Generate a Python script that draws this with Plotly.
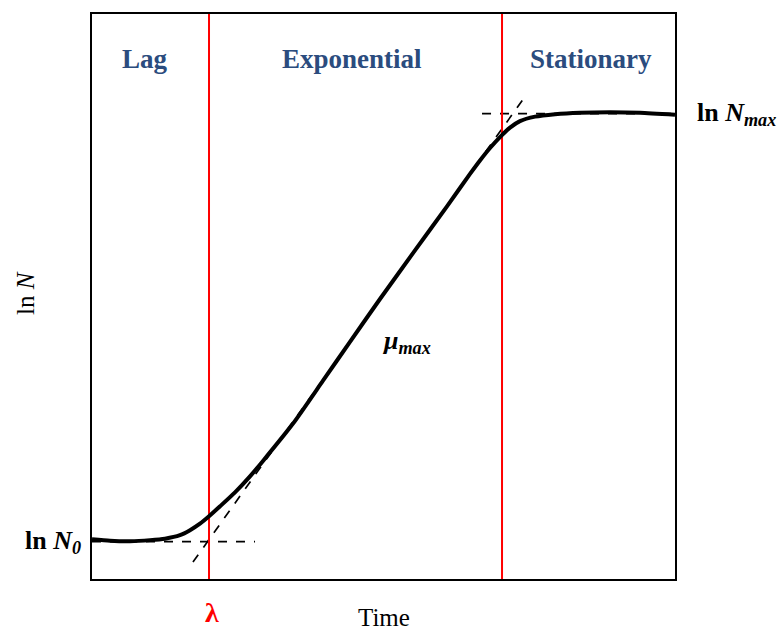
import plotly.graph_objects as go

# ---- data (arbitrary units: time 0..100, ln N 0..100) ----
time = [0, 3.09, 6.52, 9.95, 12.52, 15.09, 16.81, 18.52, 20.07, 21.96, 24.53, 27.10,
        29.33, 34.48, 39.62, 44.25, 49.40, 55.06, 60.89, 64.84, 66.55, 68.27, 69.98,
        71.70, 73.41, 75.99, 79.42, 83.70, 88.85, 93.99, 100]
lnN = [7.05, 6.79, 6.70, 6.88, 7.14, 7.76, 8.64, 9.79, 11.11, 12.87, 15.34, 18.17,
       20.90, 27.51, 35.10, 41.98, 49.56, 57.67, 65.96, 71.69, 74.07, 76.28, 78.22,
       79.89, 81.04, 81.83, 82.27, 82.54, 82.63, 82.54, 82.18]

lag_time = 20.07          # lambda
stationary_start = 70.33
lnN0 = 6.6
lnNmax = 82.36
tangent_t = [17.32, 74.62]
tangent_y = [3.0, 85.89]
n0_line_t = [0, 27.96]
nmax_line_t = [66.9, 100]

phases = ["Lag", "Exponential", "Stationary"]
phase_centers = [9.09, 44.6, 85.6]

SERIF = "Liberation Serif, Times New Roman, serif"
BLUE = "#2B4C7E"

fig = go.Figure()

# dashed reference lines
dash_style = dict(color="black", width=1.7, dash="dash")
fig.add_trace(go.Scatter(x=n0_line_t, y=[lnN0, lnN0], mode="lines",
                         line=dash_style, hoverinfo="skip"))
fig.add_trace(go.Scatter(x=nmax_line_t, y=[lnNmax, lnNmax], mode="lines",
                         line=dash_style, hoverinfo="skip"))
fig.add_trace(go.Scatter(x=tangent_t, y=tangent_y, mode="lines",
                         line=dash_style, hoverinfo="skip"))

# phase boundaries
for xb in [lag_time, stationary_start]:
    fig.add_trace(go.Scatter(x=[xb, xb], y=[0, 100], mode="lines",
                             line=dict(color="#FF0000", width=2), hoverinfo="skip"))

# growth curve
fig.add_trace(go.Scatter(x=time, y=lnN, mode="lines",
                         line=dict(color="black", width=4, shape="spline", smoothing=0.6),
                         hoverinfo="skip"))

# paper coords == data coords / 100 (axes span 0..100)
def note(x, y, text, size, color="black", xanchor="center", **kw):
    return dict(x=x, y=y, xref="paper", yref="paper", text=text, showarrow=False,
                xanchor=xanchor, yanchor="middle",
                font=dict(family=SERIF, size=size, color=color), **kw)

ann = []
for name, cx in zip(phases, phase_centers):
    ann.append(note(cx / 100, 0.9207, f"<b>{name}</b>", 27, BLUE))
ann.append(note(1.034, lnNmax / 100, "<b>ln <i>N</i><sub><i>max</i></sub></b>", 26,
                xanchor="left"))
ann.append(note(-0.0154, lnN0 / 100, "<b>ln <i>N</i><sub><i>0</i></sub></b>", 26,
                xanchor="right"))
ann.append(note(0.494, 0.42, "<b><i>μ</i><sub><i>max</i></sub></b>", 26, xanchor="left"))
ann.append(note(lag_time / 100 + 0.005, -0.06, "<b>λ</b>", 28, "#FF0000"))
ann.append(note(0.5, -0.068, "Time", 25))
ann.append(note(-0.115, 0.506, "ln <i>N</i>", 25, textangle=-90))

fig.update_layout(
    width=784, height=632,
    margin=dict(l=92, r=109, t=12, b=53),
    paper_bgcolor="white", plot_bgcolor="white",
    showlegend=False,
    annotations=ann,
    xaxis=dict(range=[0, 100], showgrid=False, zeroline=False, showticklabels=False,
               ticks="", showline=True, mirror=True, linecolor="black", linewidth=2),
    yaxis=dict(range=[0, 100], showgrid=False, zeroline=False, showticklabels=False,
               ticks="", showline=True, mirror=True, linecolor="black", linewidth=2),
)

fig.write_html("out.html")
